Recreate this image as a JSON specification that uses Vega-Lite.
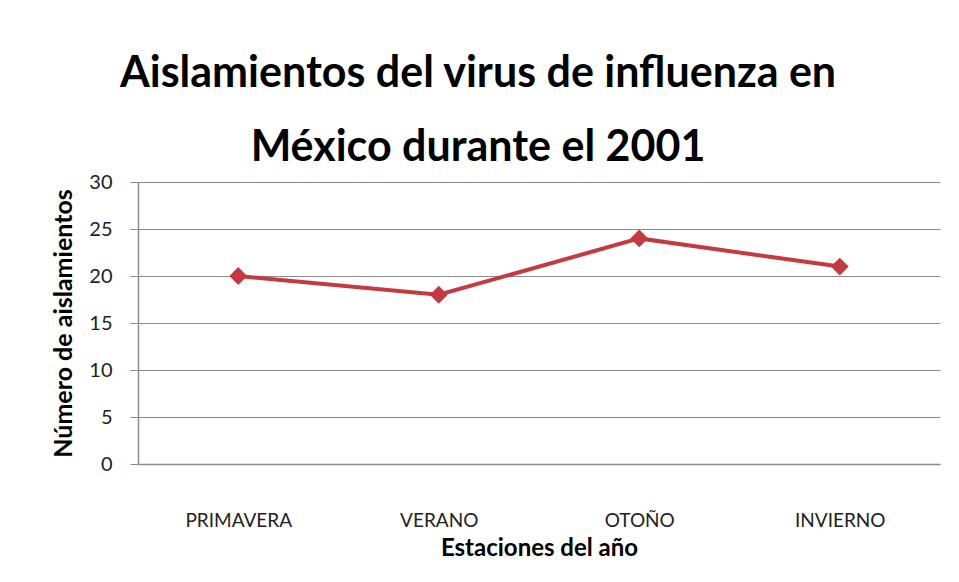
{
  "$schema": "https://vega.github.io/schema/vega-lite/v6.json",
  "autosize": "none",
  "width": 802,
  "height": 282,
  "padding": {"left": 138, "top": 182, "right": 19, "bottom": 118},
  "background": "white",
  "title": {
    "text": ["Aislamientos del virus de influenza en", "México durante el 2001"],
    "font": "Lato",
    "fontWeight": "bold",
    "fontSize": 43,
    "lineHeight": 74,
    "color": "#000000",
    "anchor": "middle",
    "frame": "group",
    "dx": -61,
    "offset": 2
  },
  "data": {
    "values": [
      {"estacion": "PRIMAVERA", "aislamientos": 20},
      {"estacion": "VERANO", "aislamientos": 18},
      {"estacion": "OTOÑO", "aislamientos": 24},
      {"estacion": "INVIERNO", "aislamientos": 21}
    ]
  },
  "encoding": {
    "x": {
      "field": "estacion",
      "type": "nominal",
      "sort": null,
      "scale": {"type": "point", "padding": 0.5},
      "axis": {
        "title": "Estaciones del año",
        "titleFont": "Lato",
        "titleFontWeight": "bold",
        "titleFontSize": 24,
        "titleColor": "#000000",
        "titleBaseline": "alphabetic",
        "titleY": 91,
        "labelFont": "Lato",
        "labelFontSize": 19,
        "labelColor": "#222222",
        "labelAngle": 0,
        "labelPadding": 47,
        "ticks": false,
        "grid": false,
        "domainColor": "#8c8c8c",
        "domainWidth": 1.5
      }
    },
    "y": {
      "field": "aislamientos",
      "type": "quantitative",
      "scale": {"domain": [0, 30], "nice": false},
      "axis": {
        "title": "Número de aislamientos",
        "titleFont": "Lato",
        "titleFontWeight": "bold",
        "titleFontSize": 25,
        "titleColor": "#000000",
        "titlePadding": 12,
        "values": [0, 5, 10, 15, 20, 25, 30],
        "labelFont": "Lato",
        "labelFontSize": 20,
        "labelColor": "#222222",
        "labelPadding": 18,
        "tickSize": 8,
        "tickColor": "#8c8c8c",
        "gridColor": "#8c8c8c",
        "gridWidth": 1,
        "domainColor": "#8c8c8c",
        "domainWidth": 1.5
      }
    }
  },
  "layer": [
    {
      "mark": {"type": "line", "color": "#C43A3E", "strokeWidth": 4}
    },
    {
      "mark": {"type": "point", "shape": "diamond", "filled": true, "color": "#C43A3E", "size": 320, "opacity": 1}
    }
  ],
  "config": {
    "view": {"stroke": null}
  }
}
